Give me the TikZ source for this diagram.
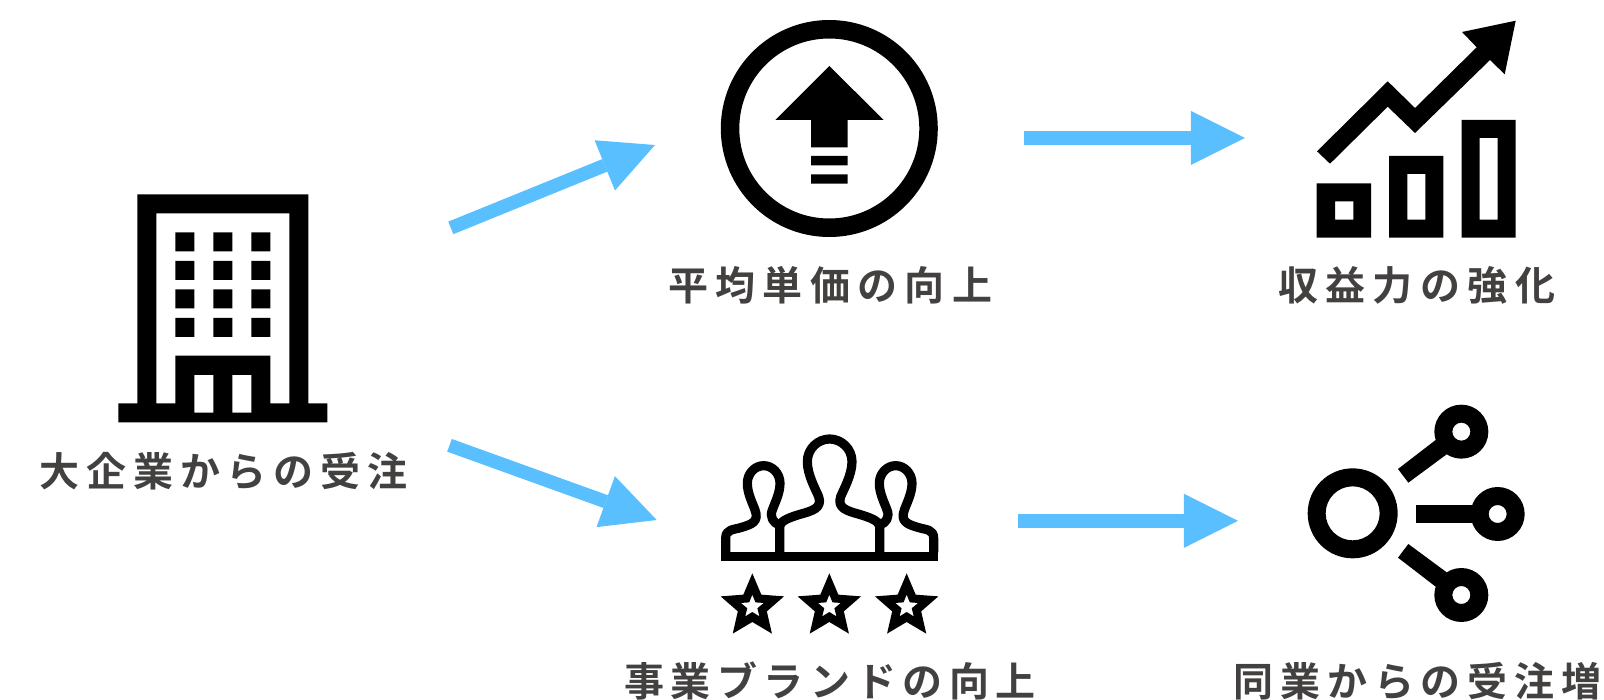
\documentclass[tikz,border=0pt]{standalone}
\usepackage{fontspec}
\usetikzlibrary{arrows.meta}
\newfontfamily\jp[LetterSpace=17.2]{Noto Sans CJK JP Bold}
\newfontfamily\jpwide[LetterSpace=18.4]{Noto Sans CJK JP Bold}
\newfontfamily\jpnarrow[LetterSpace=16]{Noto Sans CJK JP Bold}
\definecolor{flowblue}{HTML}{5ABFFF}
\definecolor{labelgrey}{HTML}{434040}
\tikzset{
  flow/.style={draw=flowblue,line width=13.5pt,-{Triangle[length=54.2pt,width=54.2pt,line width=0pt,fill=flowblue]}},
  icon/.style={fill=black,even odd rule},
  stroked/.style={draw=black,line width=9.2pt,line join=round},
  lbl/.style={font=\jp\fontsize{40pt}{40pt}\selectfont,text=labelgrey,inner sep=0pt,anchor=center},
  lblwide/.style={lbl,font=\jpwide\fontsize{40pt}{40pt}\selectfont},
  lblnarrow/.style={lbl,font=\jpnarrow\fontsize{40pt}{40pt}\selectfont}
}
\begin{document}
\begin{tikzpicture}[x=1pt,y=-1pt]
\useasboundingbox (0,0) rectangle (1604,700);
% building
\fill[icon] (137.3,194.3) -- (308.3,194.3) -- (308.3,403.3) -- (327.3,403.3) -- (327.3,422.3) -- (118.3,422.3) -- (118.3,403.3) -- (137.3,403.3) -- cycle
  (156.3,213.3) -- (289.3,213.3) -- (289.3,403.3) -- (270.3,403.3) -- (270.3,355.7) -- (175.3,355.7) -- (175.3,403.3) -- (156.3,403.3) -- cycle
  (194.3,375) rectangle (213.3,412.7)
  (232.3,375) rectangle (251.3,412.7)
  \foreach \wx in {175.3,213.3,251.3}{\foreach \wy in {232.3,261,289.3,318}{(\wx,\wy) rectangle +(19,19)}};
% up-arrow badge
\fill[icon] (829.3,128.5) circle[radius=108.5] (829.3,128.5) circle[radius=90];
\fill[icon] (829.3,66) -- (883.7,120) -- (847.7,120) -- (847.7,147.3) -- (811,147.3) -- (811,120) -- (775.3,120) -- cycle
  (811,156) rectangle (847.7,165.3)
  (811,174.3) rectangle (847.7,183.7);
% chart
\fill[icon] (1316.7,183.3) rectangle (1371,237.7) (1335,201.3) rectangle (1353.3,219.7)
  (1389,156) rectangle (1443.3,237.7) (1407.3,174) rectangle (1425.3,219.7)
  (1461.7,120) rectangle (1515.7,237.7) (1479.7,138) rectangle (1497.7,219.7);
\fill[icon] (1515.7,20.7) -- (1462,32) -- (1476.7,47.3) -- (1415,108) -- (1387.7,81.3) -- (1317,151.3) -- (1330,163.7) -- (1387.7,106.7) -- (1415,133) -- (1490,60) -- (1504.7,74.3) -- cycle;
% people
\begin{scope}[shift={(710,425)},x=0.33333pt,y=-0.33333pt]
  \fill[black] (33,382) rectangle (684,409);
  \draw[stroked] (209,382) -- (209,303) .. controls (212,287) and (240,277) .. (270,268) .. controls (305,258) and (338,250) .. (326,215) .. controls (318,195) and (292,150) .. (292,110) .. controls (292,70) and (325,42) .. (359,42) .. controls (393,42) and (426,70) .. (426,110) .. controls (426,150) and (400,195) .. (392,215) .. controls (380,250) and (413,258) .. (448,268) .. controls (478,277) and (506,287) .. (509,303) -- (509,382);
  \draw[stroked] (47,382) -- (47,340) .. controls (47,312) and (70,315) .. (95,307) .. controls (125,298) and (148,290) .. (135,255) .. controls (128,235) and (112,205) .. (112,175) .. controls (112,145) and (135,122) .. (161,122) .. controls (187,122) and (210,145) .. (210,175) .. controls (210,205) and (194,235) .. (187,255) .. controls (178,275) and (190,295) .. (209,300);
  \draw[stroked] (671,382) -- (671,340) .. controls (671,312) and (648,315) .. (623,307) .. controls (593,298) and (570,290) .. (583,255) .. controls (590,235) and (606,205) .. (606,175) .. controls (606,145) and (583,122) .. (557,122) .. controls (531,122) and (508,145) .. (508,175) .. controls (508,205) and (524,235) .. (531,255) .. controls (540,275) and (528,295) .. (509,300);
  \foreach \cx in {127,358,590}{
    \fill[icon,shift={(\cx,545)}]
      (0,-100) -- (27,-36) -- (95.1,-30.9) -- (43.5,14.1) -- (58.8,80.9) -- (0,46) -- (-58.8,80.9) -- (-43.5,14.1) -- (-95.1,-30.9) -- (-27,-36) -- cycle
      (0,-36) -- (9.4,-12.9) -- (34.2,-11.1) -- (15.2,4.9) -- (21.2,29.1) -- (0,16) -- (-21.2,29.1) -- (-15.2,4.9) -- (-34.2,-11.1) -- (-9.4,-12.9) -- cycle;
  }
\end{scope}
% share
\begin{scope}[shift={(1290,395)},x=0.33333pt,y=-0.33333pt]
  \fill[icon] (188,355) circle[radius=135] (188,355) circle[radius=81];
  \fill[icon] (514,110) circle[radius=81] (514,110) circle[radius=27];
  \fill[icon] (623,357) circle[radius=81] (623,357) circle[radius=27];
  \fill[icon] (514,600) circle[radius=81] (514,600) circle[radius=27];
  \fill[black] (378,330) -- (560,330) -- (560,383) -- (378,383) -- cycle;
  \fill[black] (324,222) -- (355,263) -- (470,178) -- (437,135) -- cycle;
  \fill[black] (324,488) -- (355,447) -- (470,532) -- (437,575) -- cycle;
\end{scope}
% labels
\node[lbl] (l1) at (223.5,471) {大企業からの受注};
\node[lblwide] (l2) at (830.2,285) {平均単価の向上};
\node[lblwide] (l3) at (1416.7,285) {収益力の強化};
\node[lblnarrow] (l4) at (830,681) {事業ブランドの向上};
\node[lbl] (l5) at (1417.5,681) {同業からの受注増};
% connectors
\coordinate (a1s) at (450.8,227.9);
\coordinate (a1e) at (655,145);
\coordinate (a2s) at (1024.3,137.9);
\coordinate (a2e) at (1245,137.9);
\coordinate (a3s) at (449.5,445.3);
\coordinate (a3e) at (656.7,520);
\coordinate (a4s) at (1017.7,520.8);
\coordinate (a4e) at (1238,520.8);
\draw[flow] (a1s) -- (a1e);
\draw[flow] (a2s) -- (a2e);
\draw[flow] (a3s) -- (a3e);
\draw[flow] (a4s) -- (a4e);
\end{tikzpicture}
\end{document}
